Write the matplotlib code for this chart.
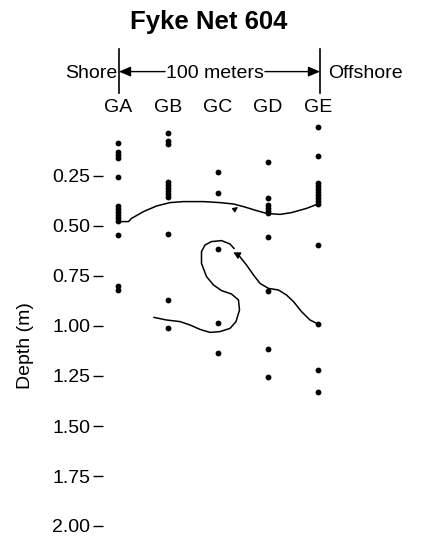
import numpy as np
import matplotlib.pyplot as plt

plt.rcParams['font.family'] = ['Liberation Sans', 'DejaVu Sans']

stations = ['GA', 'GB', 'GC', 'GD', 'GE']
depth_ticks = [0.25, 0.50, 0.75, 1.00, 1.25, 1.50, 1.75, 2.00]

# sample depths (m) at each station
depths = {
    'GA': [0.087, 0.13, 0.145, 0.16, 0.253, 0.40, 0.415, 0.43, 0.445, 0.46, 0.475, 0.545, 0.80, 0.82],
    'GB': [0.033, 0.075, 0.09, 0.28, 0.295, 0.31, 0.325, 0.34, 0.355, 0.54, 0.87, 1.008],
    'GC': [0.228, 0.337, 0.617, 0.983, 1.137],
    'GD': [0.178, 0.36, 0.395, 0.41, 0.425, 0.437, 0.553, 0.825, 1.117, 1.253],
    'GE': [0.007, 0.148, 0.287, 0.30, 0.315, 0.33, 0.345, 0.36, 0.375, 0.39, 0.595, 0.99, 1.22, 1.328],
}

# upper track (station position, depth)
upper_x = [0.0, 0.21, 0.27, 0.51, 0.77, 1.04, 1.31, 1.71, 2.04, 2.31, 2.51, 2.77, 2.97,
           3.24, 3.47, 3.77, 4.0, 4.0]
upper_d = [0.478, 0.478, 0.462, 0.428, 0.40, 0.383, 0.378, 0.378, 0.383, 0.39, 0.403, 0.423, 0.437,
           0.442, 0.433, 0.412, 0.39, 0.32]

# lower track
lower_x = [0.72, 0.97, 1.24, 1.44, 1.64, 1.84, 2.04, 2.24, 2.36, 2.43, 2.41, 2.27, 2.07, 1.91,
           1.77, 1.67, 1.67, 1.74, 1.87, 2.07, 2.24, 2.32]
lower_d = [0.957, 0.97, 0.978, 0.995, 1.017, 1.032, 1.028, 1.012, 0.978, 0.92, 0.87, 0.84, 0.823, 0.795,
           0.753, 0.687, 0.628, 0.595, 0.578, 0.573, 0.59, 0.612]
lower2_x = [2.38, 2.41, 2.57, 2.71, 2.84, 3.01, 3.21, 3.37, 3.51, 3.67, 3.84, 4.0]
lower2_d = [0.640, 0.645, 0.695, 0.745, 0.787, 0.812, 0.82, 0.845, 0.878, 0.928, 0.97, 0.99]

fig = plt.figure(figsize=(4.22, 5.42), dpi=100)
ax = fig.add_axes([103/422, 6/542, 242/422, 416/542])

for i, s in enumerate(stations):
    ax.plot([i]*len(depths[s]), depths[s], 'o', color='k', ms=4.2, mew=0, clip_on=False)

ax.plot(upper_x, upper_d, color='k', lw=1.1, solid_joinstyle='round')
ax.plot(lower_x, lower_d, color='k', lw=1.1, solid_joinstyle='round')
ax.plot(lower2_x, lower2_d, color='k', lw=1.1, solid_joinstyle='round')
# little direction marks on the tracks
ax.annotate('', xy=(2.40, 0.405), xytext=(2.34, 0.416),
            arrowprops=dict(arrowstyle='-|>,head_length=0.3,head_width=0.15', color='k', lw=0.8,
                            shrinkA=0, shrinkB=0))
ax.annotate('', xy=(2.31, 0.632), xytext=(2.37, 0.640),
            arrowprops=dict(arrowstyle='-|>,head_length=0.4,head_width=0.22', color='k', lw=0.8,
                            shrinkA=0, shrinkB=0))

ax.set_xlim(-0.3, 4.54)
ax.set_ylim(2.05, -0.03)
ax.set_xticks([])
ax.set_yticks(depth_ticks)
ax.set_yticklabels(['%.2f' % t for t in depth_ticks])
ax.tick_params(axis='y', length=7.2, width=1.0, pad=2, labelsize=14)
for sp in ax.spines.values():
    sp.set_visible(False)

# station labels and scale bar on top
for i, s in enumerate(stations):
    ax.text(i, -0.07, s, ha='center', va='baseline', fontsize=14, clip_on=False)
ax.plot([0.02, 0.02], [-0.385, -0.165], color='k', lw=1.2, clip_on=False)
ax.plot([4.04, 4.04], [-0.385, -0.165], color='k', lw=1.2, clip_on=False)
ax.text(-0.02, -0.24, 'Shore', ha='right', va='baseline', fontsize=14)
ax.text(4.2, -0.24, 'Offshore', ha='left', va='baseline', fontsize=14)
mid = ax.text(1.94, -0.24, '100 meters', ha='center', va='baseline', fontsize=14)

# arrows run from the edges of the "100 meters" text to the bars
fig.canvas.draw()
bb = mid.get_window_extent().transformed(ax.transData.inverted())
ax.annotate('', xy=(0.02, -0.272), xytext=(bb.x0 - 0.02, -0.272), annotation_clip=False,
            arrowprops=dict(arrowstyle='-|>,head_length=0.7,head_width=0.3', color='k', lw=1.0,
                            shrinkA=0, shrinkB=0))
ax.annotate('', xy=(4.04, -0.272), xytext=(bb.x1 + 0.02, -0.272), annotation_clip=False,
            arrowprops=dict(arrowstyle='-|>,head_length=0.7,head_width=0.3', color='k', lw=1.0,
                            shrinkA=0, shrinkB=0))

fig.text(209/422, 1 - 29/542, 'Fyke Net 604', ha='center', va='baseline',
         fontsize=18.5, fontweight='bold')
fig.text(25/422, 1 - 346/542, 'Depth (m)', ha='center', va='center', rotation=90, fontsize=14)

fig.savefig('out.png', dpi=100)
